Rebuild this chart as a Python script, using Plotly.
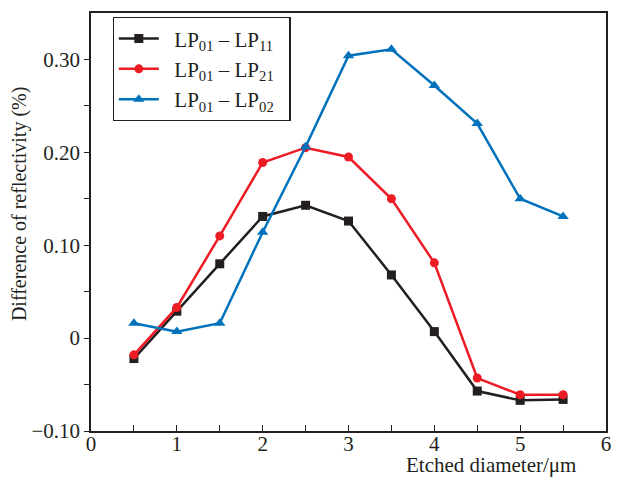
import plotly.graph_objects as go

x_vals = [0.5, 1.0, 1.5, 2.0, 2.5, 3.0, 3.5, 4.0, 4.5, 5.0, 5.5]
lp11 = [-0.022, 0.029, 0.080, 0.131, 0.143, 0.126, 0.068, 0.007, -0.057, -0.067, -0.066]
lp21 = [-0.018, 0.033, 0.110, 0.189, 0.205, 0.195, 0.150, 0.081, -0.043, -0.061, -0.061]
lp02 = [0.016, 0.007, 0.016, 0.114, 0.206, 0.304, 0.311, 0.272, 0.231, 0.150, 0.131]

names = ["LP<sub>01</sub> \u2013 LP<sub>11</sub>", "LP<sub>01</sub> \u2013 LP<sub>21</sub>", "LP<sub>01</sub> \u2013 LP<sub>02</sub>"]
colors = ["#231f20", "#ed1c24", "#0072bc"]
symbols = ["square", "circle", "triangle-up"]

y_tickvals = [-0.10, 0, 0.10, 0.20, 0.30]
y_ticktext = ["\u22120.10", "0", "0.10", "0.20", "0.30"]
x_tickvals = [0, 1, 2, 3, 4, 5, 6]

FONT = "Liberation Serif"
PAD = "\u00a0\u00a0"

fig = go.Figure()
for ys, name, c, s in zip([lp11, lp21, lp02], names, colors, symbols):
    fig.add_trace(go.Scatter(
        x=x_vals, y=ys, name=PAD + name + PAD, mode="lines+markers",
        line=dict(color=c, width=2.5),
        marker=dict(color=c, symbol=s, size=9 if s != "triangle-up" else 10),
    ))

fig.update_layout(
    width=617, height=479,
    margin=dict(l=91, r=6, t=13, b=48),
    paper_bgcolor="white", plot_bgcolor="white",
    font=dict(family=FONT, size=21, color="#231f20"),
    showlegend=True,
    legend=dict(
        x=0.042, y=0.99, xanchor="left", yanchor="top",
        bordercolor="#231f20", borderwidth=1.2,
        font=dict(family=FONT, size=21, color="#231f20"),
        itemwidth=40, tracegroupgap=0,
        bgcolor="white",
    ),
    xaxis=dict(
        range=[0, 6], tickvals=x_tickvals, ticktext=[str(v) for v in x_tickvals],
        ticks="inside", ticklen=6, tickwidth=1.2, tickcolor="#231f20",
        minor=dict(dtick=0.5, ticks="inside", ticklen=6, tickwidth=1.2, tickcolor="#231f20"),
        showline=True, linecolor="#231f20", linewidth=1.5, mirror=True,
        showgrid=False, zeroline=False, ticklabelstandoff=-7,
        tickfont=dict(family=FONT, size=21, color="#231f20"),
    ),
    yaxis=dict(
        range=[-0.10, 0.35], tickvals=y_tickvals, ticktext=y_ticktext,
        ticks="outside", ticklen=5, tickwidth=1.2, tickcolor="#231f20",
        minor=dict(tickvals=[-0.05, 0.05, 0.15, 0.25], ticks="outside", ticklen=5, tickwidth=1.2, tickcolor="#231f20"),
        showline=True, linecolor="#231f20", linewidth=1.5, mirror=True,
        showgrid=False, zeroline=False,
        tickfont=dict(family=FONT, size=21, color="#231f20"),
    ),
    annotations=[
        dict(text="Etched diameter/\u03bcm", xref="paper", yref="paper",
             x=0.946, y=-0.1148, xanchor="right", yanchor="bottom", showarrow=False,
             font=dict(family=FONT, size=21, color="#231f20")),
        dict(text="Difference of reflectivity (%)", xref="paper", yref="paper",
             x=-0.14, y=0.545, xanchor="center", yanchor="middle", showarrow=False,
             textangle=-90, font=dict(family=FONT, size=20, color="#231f20")),
    ],
)

fig.write_html("out.html")
